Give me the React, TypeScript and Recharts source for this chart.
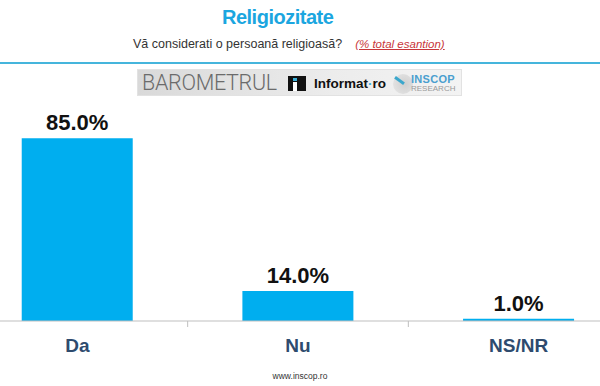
import React from "react";
import { BarChart, Bar, XAxis, YAxis, LabelList } from "recharts";

const categories = ["Da", "Nu", "NS/NR"];
const values = [85.0, 14.0, 1.0];
const title = "Religiozitate";
const question = "Vă considerati o persoană religioasă?";
const note = "(% total esantion)";
const footer = "www.inscop.ro";

const data = categories.map((c, i) => ({ name: c, value: values[i] }));

const CategoryTick = (props: any) => {
  const { x, y, payload, width, visibleTicksCount } = props;
  const half =
    payload && typeof payload.offset === "number" && payload.offset > 0
      ? payload.offset
      : width / (visibleTicksCount || 3) / 2;
  return (
    <g>
      <line x1={x + half} y1={y} x2={x + half} y2={y + 6} stroke="#bfbfbf" strokeWidth={1} />
      <text
        x={x}
        y={y + 31}
        textAnchor="middle"
        fill="#2E4B6E"
        fontFamily="Liberation Sans, Arial, sans-serif"
        fontWeight="bold"
        fontSize={19}
      >
        {payload.value}
      </text>
    </g>
  );
};

export default function App() {
  return (
    <div
      style={{
        position: "absolute",
        left: 0,
        top: 0,
        width: 600,
        height: 386,
        overflow: "hidden",
        background: "#ffffff",
        fontFamily: "Liberation Sans, Arial, sans-serif",
      }}
    >
      <div
        style={{
          position: "absolute",
          left: 222,
          top: 3,
          fontSize: 20,
          fontWeight: "bold",
          letterSpacing: -0.5,
          color: "#1BA6E0",
          lineHeight: "28px",
          whiteSpace: "nowrap",
        }}
      >
        {title}
      </div>
      <div
        style={{
          position: "absolute",
          left: 133,
          top: 37,
          fontSize: 12.5,
          color: "#333333",
          lineHeight: "15px",
          whiteSpace: "nowrap",
        }}
      >
        {question}
        <span
          style={{
            marginLeft: 13,
            color: "#C8363A",
            fontStyle: "italic",
            textDecoration: "underline",
            fontSize: 11.5,
          }}
        >
          {note}
        </span>
      </div>
      <div
        style={{
          position: "absolute",
          left: 0,
          top: 62,
          width: 600,
          height: 2,
          background: "#45B5DC",
        }}
      />
      {/* banner */}
      <div
        style={{
          position: "absolute",
          left: 137,
          top: 69,
          width: 325,
          height: 27,
          background: "linear-gradient(to right, #d9d9d9, #ececec 60%, #f3f3f3)",
          border: "1px solid #e2e2e2",
          boxSizing: "border-box",
        }}
      >
        <div
          style={{
            position: "absolute",
            left: 4,
            top: 1,
            fontFamily: "Roboto, sans-serif",
            fontWeight: 300,
            fontSize: 21.5,
            letterSpacing: -0.3,
            lineHeight: "24px",
            color: "#6b6b6b",
            whiteSpace: "nowrap",
          }}
        >
          BAROMETRUL
        </div>
        <div
          style={{
            position: "absolute",
            left: 150,
            top: 6,
            width: 18,
            height: 15,
            background: "#111",
          }}
        >
          <div style={{ position: "absolute", left: 5, top: 2, width: 4, height: 3, background: "#3bb0d8" }} />
          <div style={{ position: "absolute", left: 5, top: 6, width: 4, height: 9, background: "#fff" }} />
        </div>
        <div
          style={{
            position: "absolute",
            left: 176,
            top: 5,
            fontSize: 13.5,
            fontWeight: "bold",
            color: "#111",
            lineHeight: "18px",
            whiteSpace: "nowrap",
          }}
        >
          Informat<span style={{ color: "#3bb0d8" }}>·</span>ro
        </div>
        <div
          style={{
            position: "absolute",
            left: 255,
            top: 4,
            width: 20,
            height: 20,
            borderRadius: 10,
            background: "radial-gradient(circle at 60% 50%, #cfcfcf, #e8e8e8)",
          }}
        >
          <div
            style={{
              position: "absolute",
              left: 1,
              top: 5,
              width: 11,
              height: 3,
              background: "#3ba7cc",
              transform: "rotate(35deg)",
            }}
          />
        </div>
        <div
          style={{
            position: "absolute",
            left: 273,
            top: 4,
            fontSize: 11,
            fontWeight: "bold",
            color: "#4a9fcf",
            lineHeight: "11px",
            letterSpacing: 0.3,
          }}
        >
          INSCOP
        </div>
        <div
          style={{
            position: "absolute",
            left: 273,
            top: 14,
            fontSize: 8,
            color: "#9a9a9a",
            lineHeight: "9px",
          }}
        >
          RESEARCH
        </div>
      </div>
      {/* chart */}
      <div style={{ position: "absolute", left: -33, top: 0 }}>
        <BarChart
          width={662}
          height={386}
          data={data}
          margin={{ top: 106, right: 0, bottom: 25, left: 0 }}
          barCategoryGap="24.8%"
        >
          <XAxis
            dataKey="name"
            axisLine={{ stroke: "#bfbfbf", strokeWidth: 1 }}
            tickLine={false}
            tickSize={0}
            tickMargin={0}
            height={40}
            interval={0}
            tick={<CategoryTick />}
          />
          <YAxis hide domain={[0, 100]} />
          <Bar dataKey="value" fill="#00AEEF" isAnimationActive={false}>
            <LabelList
              dataKey="value"
              position="top"
              offset={8}
              formatter={(v: any) => `${Number(v).toFixed(1)}%`}
              fill="#111111"
              fontFamily="Liberation Sans, Arial, sans-serif"
              fontWeight="bold"
              fontSize={22}
            />
          </Bar>
        </BarChart>
      </div>
      <div
        style={{
          position: "absolute",
          left: 0,
          width: 600,
          top: 371,
          textAlign: "center",
          fontSize: 8.5,
          color: "#333",
          lineHeight: "10px",
        }}
      >
        {footer}
      </div>
    </div>
  );
}
